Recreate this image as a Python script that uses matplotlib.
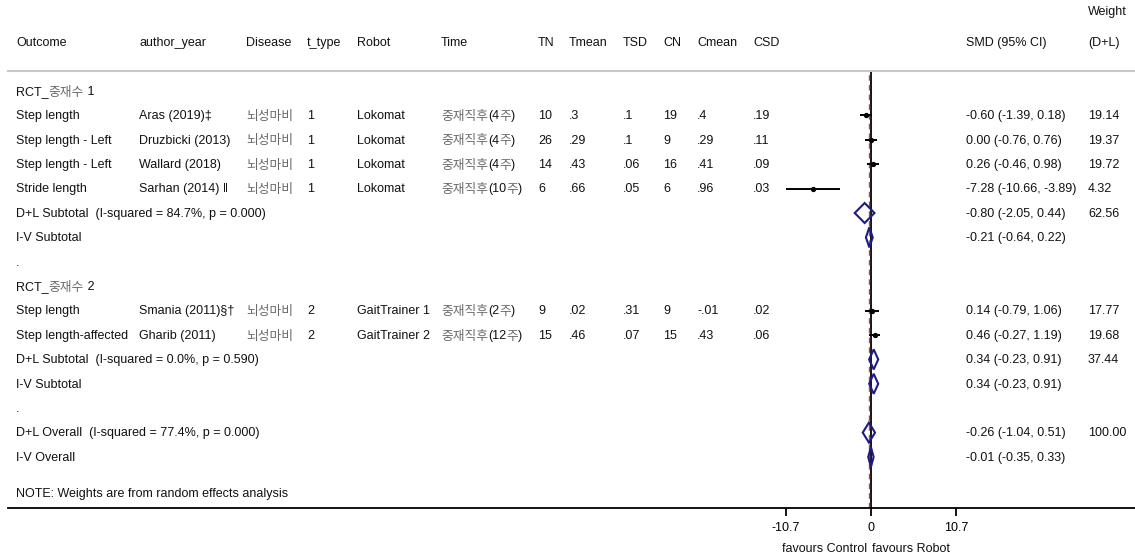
import matplotlib
matplotlib.use("Agg")
import matplotlib.pyplot as plt
from matplotlib.transforms import blended_transform_factory, offset_copy
from matplotlib.patches import Polygon

plt.rcParams['font.family'] = ['Liberation Sans', 'Noto Sans CJK KR', 'DejaVu Sans']
plt.rcParams['font.size'] = 9

# ---- study-level data ----
groups = ["RCT_중재수 1", "RCT_중재수 2"]
group_of_study = [0, 0, 0, 0, 1, 1]
outcomes = ["Step length", "Step length - Left", "Step length - Left", "Stride length",
            "Step length", "Step length-affected"]
authors = ["Aras (2019)‡", "Druzbicki (2013)", "Wallard (2018)", "Sarhan (2014) ‖",
           "Smania (2011)§†", "Gharib (2011)"]
diseases = ["뇌성마비"] * 6
t_types = ["1", "1", "1", "1", "2", "2"]
robots = ["Lokomat", "Lokomat", "Lokomat", "Lokomat", "GaitTrainer 1", "GaitTrainer 2"]
times = ["중재직후(4주)", "중재직후(4주)", "중재직후(4주)", "중재직후(10주)",
         "중재직후(2주)", "중재직후(12주)"]
TN = ["10", "26", "14", "6", "9", "15"]
Tmean = [".3", ".29", ".43", ".66", ".02", ".46"]
TSD = [".1", ".1", ".06", ".05", ".31", ".07"]
CN = ["19", "9", "16", "6", "9", "15"]
Cmean = [".4", ".29", ".41", ".96", "-.01", ".43"]
CSD = [".19", ".11", ".09", ".03", ".02", ".06"]
smd = [-0.60, 0.00, 0.26, -7.28, 0.14, 0.46]
smd_lo = [-1.39, -0.76, -0.46, -10.66, -0.79, -0.27]
smd_hi = [0.18, 0.76, 0.98, -3.89, 1.06, 1.19]
weights = [19.14, 19.37, 19.72, 4.32, 17.77, 19.68]

# ---- pooled estimates per subgroup ----
dl_labels = ["D+L Subtotal  (I-squared = 84.7%, p = 0.000)",
             "D+L Subtotal  (I-squared = 0.0%, p = 0.590)"]
dl_est = [-0.80, 0.34]
dl_lo = [-2.05, -0.23]
dl_hi = [0.44, 0.91]
dl_weight = [62.56, 37.44]
iv_est = [-0.21, 0.34]
iv_lo = [-0.64, -0.23]
iv_hi = [0.22, 0.91]

# ---- overall ----
overall_label_dl = "D+L Overall  (I-squared = 77.4%, p = 0.000)"
overall_dl = (-0.26, -1.04, 0.51, 100.00)
overall_iv = (-0.01, -0.35, 0.33)

xticks = [-10.7, 0, 10.7]
xtick_labels = ["-10.7", "0", "10.7"]

headers = ["Outcome", "author_year", "Disease", "t_type", "Robot", "Time",
           "TN", "Tmean", "TSD", "CN", "Cmean", "CSD"]
col_x = [16, 139, 246, 307, 357, 441, 538, 569, 623, 663, 697, 753]
smd_x = 966
wt_x = 1088

W, H = 1135, 559
fig = plt.figure(figsize=(W / 100, H / 100), dpi=100)
renderer = fig.canvas.get_renderer()

# forest panel: spans from the header rule down to the x axis
ax_left, ax_right, ax_top, ax_bot = 8, 1135, 71, 508
ax = fig.add_axes([ax_left / W, 1 - ax_bot / H, (ax_right - ax_left) / W, (ax_bot - ax_top) / H])

zero_px = 871
unit_px = 85 / 10.7
ax.set_xlim((ax_left - zero_px) / unit_px, (ax_right - zero_px) / unit_px)
row0_px, row_step = 91, 24.4
ax.set_ylim((ax_bot - row0_px) / row_step, (ax_top - row0_px) / row_step)

for s in ["left", "right"]:
    ax.spines[s].set_visible(False)
ax.spines["top"].set_color("#c8c8c8")
ax.spines["top"].set_linewidth(1.5)
ax.spines["bottom"].set_color("black")
ax.spines["bottom"].set_linewidth(1.3)
ax.set_yticks([])
ax.set_xticks(xticks)
ax.set_xticklabels(xtick_labels)
ax.tick_params(axis="x", direction="out", length=6, width=1.3, pad=4, labelsize=9,
               colors="black")

tr = blended_transform_factory(fig.transFigure, ax.transData)

TEXT_COLOR = "#111111"
HANGUL_COLOR = "#6a6a6a"
HANGUL_SIZE = 9.2
BASELINE_SHIFT = -3.8   # dots from row centre down to the text baseline
HANGUL_DROP = -0.8      # Hangul glyphs sit a little lower on the shared baseline


def is_hangul(ch):
    return '\uac00' <= ch <= '\ud7a3'


def put(px, row, s, **kw):
    """Left-aligned cell text on a common baseline; Hangul runs drawn lighter."""
    runs = []
    for ch in s:
        h = is_hangul(ch)
        if runs and runs[-1][0] == h:
            runs[-1][1] += ch
        else:
            runs.append([h, ch])
    dx = 0.0
    for h, chunk in runs:
        dy = BASELINE_SHIFT + (HANGUL_DROP if h else 0.0)
        t = ax.text(px / W, row, chunk,
                    transform=offset_copy(tr, fig=fig, x=dx, y=dy, units="dots"),
                    va="baseline", ha="left", clip_on=False,
                    color=HANGUL_COLOR if h else TEXT_COLOR,
                    fontsize=HANGUL_SIZE if h else 9, **kw)
        dx += t.get_window_extent(renderer=renderer).width


# header
put(wt_x, -3.25, "Weight")
for hx, h in zip(col_x, headers):
    put(hx, -2, h)
put(smd_x, -2, "SMD (95% CI)")
put(wt_x, -2, "(D+L)")

diamond_h = 0.41
navy = "#1c1c86"


def diamond(est, lo, hi, row):
    poly = Polygon([(lo, row), (est, row - diamond_h), (hi, row), (est, row + diamond_h)],
                   closed=True, fill=False, edgecolor=navy, linewidth=1.5, zorder=4)
    ax.add_patch(poly)


row = 0
for g, gname in enumerate(groups):
    put(col_x[0], row, gname)
    row += 1
    for i in [k for k, gg in enumerate(group_of_study) if gg == g]:
        vals = [outcomes[i], authors[i], diseases[i], t_types[i], robots[i], times[i],
                TN[i], Tmean[i], TSD[i], CN[i], Cmean[i], CSD[i]]
        for hx, v in zip(col_x, vals):
            put(hx, row, v)
        ax.plot([smd_lo[i], smd_hi[i]], [row, row], color="black", lw=1.4,
                solid_capstyle="butt", zorder=3)
        ax.plot(smd[i], row, "o", color="black", ms=2.8, zorder=4)
        put(smd_x, row, f"{smd[i]:.2f} ({smd_lo[i]:.2f}, {smd_hi[i]:.2f})")
        put(wt_x, row, f"{weights[i]:.2f}")
        row += 1
    put(col_x[0], row, dl_labels[g])
    diamond(dl_est[g], dl_lo[g], dl_hi[g], row)
    put(smd_x, row, f"{dl_est[g]:.2f} ({dl_lo[g]:.2f}, {dl_hi[g]:.2f})")
    put(wt_x, row, f"{dl_weight[g]:.2f}")
    row += 1
    put(col_x[0], row, "I-V Subtotal")
    diamond(iv_est[g], iv_lo[g], iv_hi[g], row)
    put(smd_x, row, f"{iv_est[g]:.2f} ({iv_lo[g]:.2f}, {iv_hi[g]:.2f})")
    row += 1
    put(col_x[0], row, ".")
    row += 1

put(col_x[0], row, overall_label_dl)
diamond(overall_dl[0], overall_dl[1], overall_dl[2], row)
put(smd_x, row, f"{overall_dl[0]:.2f} ({overall_dl[1]:.2f}, {overall_dl[2]:.2f})")
put(wt_x, row, f"{overall_dl[3]:.2f}")
row += 1
put(col_x[0], row, "I-V Overall")
diamond(overall_iv[0], overall_iv[1], overall_iv[2], row)
put(smd_x, row, f"{overall_iv[0]:.2f} ({overall_iv[1]:.2f}, {overall_iv[2]:.2f})")
row += 1.5
put(col_x[0], row, "NOTE: Weights are from random effects analysis")

# reference lines: no effect and overall D+L estimate
ax.axvline(0, color="black", lw=1.3, zorder=2)
ax.axvline(overall_dl[0], color="#b04848", lw=1.0, ls=(0, (4, 3)), zorder=2)

# direction labels under the axis
ax.annotate("favours Control", xy=(0, 0), xycoords=("data", "axes fraction"),
            xytext=(-3, -29.5), textcoords="offset points", ha="right", va="center",
            color=TEXT_COLOR)
ax.annotate("favours Robot", xy=(0, 0), xycoords=("data", "axes fraction"),
            xytext=(1, -29.5), textcoords="offset points", ha="left", va="center",
            color=TEXT_COLOR)

fig.savefig("out.png", dpi=100)
